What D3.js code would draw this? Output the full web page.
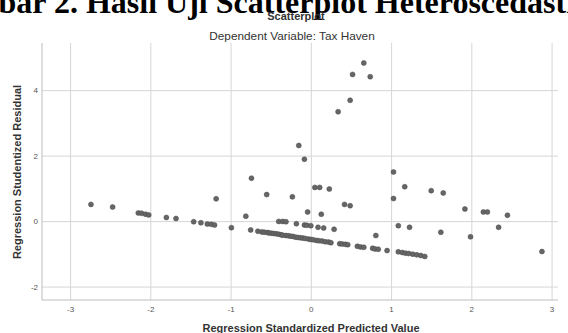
<!DOCTYPE html>
<html>
<head>
<meta charset="utf-8">
<script src="https://cdn.jsdelivr.net/npm/d3@7"></script>
<style>
  body { margin: 0; background: #fff; }
  svg { display: block; }
</style>
</head>
<body>
<div id="chart"></div>
<script>
// size of picture
const width = 568;
const height = 333;

// texts
const heading = "Gambar 2. Hasil Uji Scatterplot Heteroscedastisitas";
const title = "Scatterplot";
const subtitle = "Dependent Variable: Tax Haven";
const xTitle = "Regression Standardized Predicted Value";
const yTitle = "Regression Studentized Residual";

// ticks
const xTicks = [-3, -2, -1, 0, 1, 2, 3];
const yTicks = [-2, 0, 2, 4];

// data: standardized predicted value (x) and studentized residual (y)
const predicted = [
  -2.74, -2.47, -2.15, -2.11, -2.06, -2.02, -1.80, -1.68, -1.46, -1.37, -1.29, -1.24, -1.20, -0.99, -0.75, -0.66,
  -0.61, -0.58, -0.54, -0.52, -0.49, -0.46, -0.43, -0.40, -0.37, -0.35, -0.31, -0.28, -0.25, -0.22,
  -0.19, -0.16, -0.13, -0.10, -0.07, -0.03, 0.00, 0.03, 0.07, 0.10, 0.14, 0.18, 0.22, 0.25,
  0.36, 0.39, 0.43, 0.46, 0.58, 0.62, 0.66, 0.77, 0.80, 0.84, 0.95, 1.09, 1.14, 1.18, 1.22, 1.27, 1.32, 1.37, 1.42,
  -1.18, -0.81, -0.74, -0.55, -0.23, -0.15, -0.08, -0.40, -0.35, -0.31,
  -0.18, -0.08, -0.05, 0.00, -0.04, 0.09, 0.16, 0.13, 0.29, 0.05,
  0.11, 0.23, 0.34, 0.49, 0.52, 0.66, 0.74, 0.42, 0.49, 0.81,
  1.03, 1.03, 1.17, 1.09, 1.23, 1.50, 1.65, 1.62, 1.92, 2.15,
  2.20, 2.45, 2.34, 1.99, 2.88
];
const residual = [
  0.51, 0.43, 0.25, 0.24, 0.21, 0.19, 0.11, 0.08, -0.02, -0.05, -0.09, -0.10, -0.12, -0.20, -0.27, -0.31,
  -0.33, -0.34, -0.35, -0.36, -0.37, -0.38, -0.39, -0.40, -0.42, -0.43, -0.44, -0.45, -0.46, -0.47,
  -0.49, -0.50, -0.51, -0.52, -0.53, -0.55, -0.56, -0.57, -0.59, -0.60, -0.61, -0.63, -0.64, -0.66,
  -0.69, -0.70, -0.71, -0.72, -0.77, -0.79, -0.80, -0.83, -0.85, -0.86, -0.90, -0.94, -0.96, -0.98, -0.99, -1.01, -1.03, -1.05, -1.08,
  0.68, 0.15, 1.31, 0.81, 0.74, 2.31, 1.89, -0.01, -0.01, -0.02,
  -0.08, -0.12, -0.13, -0.14, 0.28, -0.19, -0.21, 0.21, -0.25, 1.03,
  1.03, 0.98, 3.34, 3.69, 4.48, 4.83, 4.41, 0.51, 0.47, -0.44,
  1.50, 0.69, 1.05, -0.14, -0.19, 0.93, 0.86, -0.34, 0.37, 0.28,
  0.28, 0.18, -0.19, -0.48, -0.93
];

// plot area
const plot = {left: 42, right: 558, top: 43, bottom: 300};

const x = d3.scaleLinear().domain([-3.35, 3.08]).range([plot.left, plot.right]);
const y = d3.scaleLinear().domain([-2.41, 5.44]).range([plot.bottom, plot.top]);

const svg = d3.select("#chart")
  .append("svg")
  .attr("width", width)
  .attr("height", height)
  .style("font-family", "'Liberation Sans', Arial, sans-serif");

// heading of the page, cut at the top and sides
svg.append("text")
  .attr("x", -69)
  .attr("y", 13)
  .attr("font-family", "'Liberation Serif', 'Times New Roman', serif")
  .attr("font-weight", "bold")
  .attr("font-size", 32)
  .attr("fill", "#000")
  .text(heading);

// titles
svg.append("text")
  .attr("x", 296).attr("y", 20)
  .attr("text-anchor", "middle")
  .attr("font-size", 11)
  .attr("font-weight", "bold")
  .attr("fill", "#333")
  .text(title);

svg.append("text")
  .attr("x", 292).attr("y", 40)
  .attr("text-anchor", "middle")
  .attr("font-size", 11.8)
  .attr("fill", "#333")
  .text(subtitle);

// grid via axes
const xAxis = svg.append("g")
  .attr("transform", `translate(0,${plot.bottom})`)
  .call(d3.axisBottom(x).tickValues(xTicks).tickFormat(d => d)
    .tickSize(-(plot.bottom - plot.top)).tickPadding(6));

const yAxis = svg.append("g")
  .attr("transform", `translate(${plot.left},0)`)
  .call(d3.axisLeft(y).tickValues(yTicks).tickFormat(d => d)
    .tickSize(-(plot.right - plot.left)).tickPadding(4));

[xAxis, yAxis].forEach(g => {
  g.select(".domain").remove();
  g.selectAll(".tick line").attr("stroke", "#d6d6d6").attr("stroke-width", 1);
  g.selectAll(".tick text")
    .attr("fill", "#555")
    .attr("font-size", 8)
    .attr("font-family", "'Liberation Sans', Arial, sans-serif");
});

// frame on left and bottom
svg.append("line")
  .attr("x1", plot.left).attr("x2", plot.left)
  .attr("y1", plot.top).attr("y2", plot.bottom)
  .attr("stroke", "#bdbdbd");
svg.append("line")
  .attr("x1", plot.left).attr("x2", plot.right)
  .attr("y1", plot.bottom).attr("y2", plot.bottom)
  .attr("stroke", "#bdbdbd");

// points
svg.append("g")
  .selectAll("circle")
  .data(predicted.map((d, i) => [d, residual[i]]))
  .enter().append("circle")
    .attr("cx", d => x(d[0]))
    .attr("cy", d => y(d[1]))
    .attr("r", 2.5)
    .attr("fill", "#666")
    .attr("stroke", "#4a4a4a")
    .attr("stroke-width", 0.5);

// axis titles
svg.append("text")
  .attr("x", 311).attr("y", 332)
  .attr("text-anchor", "middle")
  .attr("font-size", 11)
  .attr("font-weight", "bold")
  .attr("fill", "#333")
  .text(xTitle);

svg.append("text")
  .attr("transform", "translate(21,172) rotate(-90)")
  .attr("text-anchor", "middle")
  .attr("font-size", 11)
  .attr("font-weight", "bold")
  .attr("fill", "#333")
  .text(yTitle);
</script>
</body>
</html>
